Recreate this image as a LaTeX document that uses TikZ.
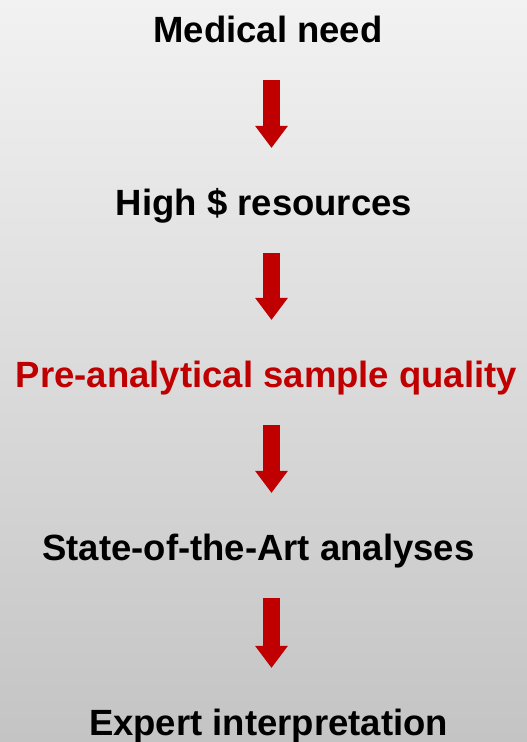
\documentclass[tikz,border=0pt]{standalone}
\usepackage{fontspec}
\setmainfont{Liberation Sans}
\usetikzlibrary{arrows.meta}
\definecolor{darkred}{HTML}{C00000}
\begin{document}
\begin{tikzpicture}[x=1pt,y=-1pt,
  stepstyle/.style={anchor=base,inner sep=0,text height=26pt,text depth=8pt,
    font=\fontsize{36.5}{40}\selectfont\bfseries},
  redstyle/.style={stepstyle,text=darkred},
  flowstyle/.style={draw=darkred,line width=17pt,shorten <=30pt,shorten >=41pt,
    -{Triangle[width=33pt,length=22pt,line width=0pt]}}]
\shade[top color={rgb,255:red,242;green,242;blue,242},bottom color={rgb,255:red,196;green,196;blue,196}]
  (0,0) rectangle (527,742);
\useasboundingbox (0,0) rectangle (527,742);
\coordinate (axis) at (271.5,0);
\node[stepstyle] (need) at (268,42) {Medical need};
\node[stepstyle] (money) at (264,215) {High \$ resources};
\node[redstyle] (quality) at (266.5,387) {Pre-analytical sample quality};
\node[stepstyle] (analyses) at (258.5,560) {State-of-the-Art analyses};
\node[stepstyle] (expert) at (268.5,735) {Expert interpretation};
\draw[flowstyle] (need.south -| axis) -- (money.north -| axis);
\draw[flowstyle] (money.south -| axis) -- (quality.north -| axis);
\draw[flowstyle] (quality.south -| axis) -- (analyses.north -| axis);
\draw[flowstyle] (analyses.south -| axis) -- (expert.north -| axis);
\end{tikzpicture}
\end{document}
